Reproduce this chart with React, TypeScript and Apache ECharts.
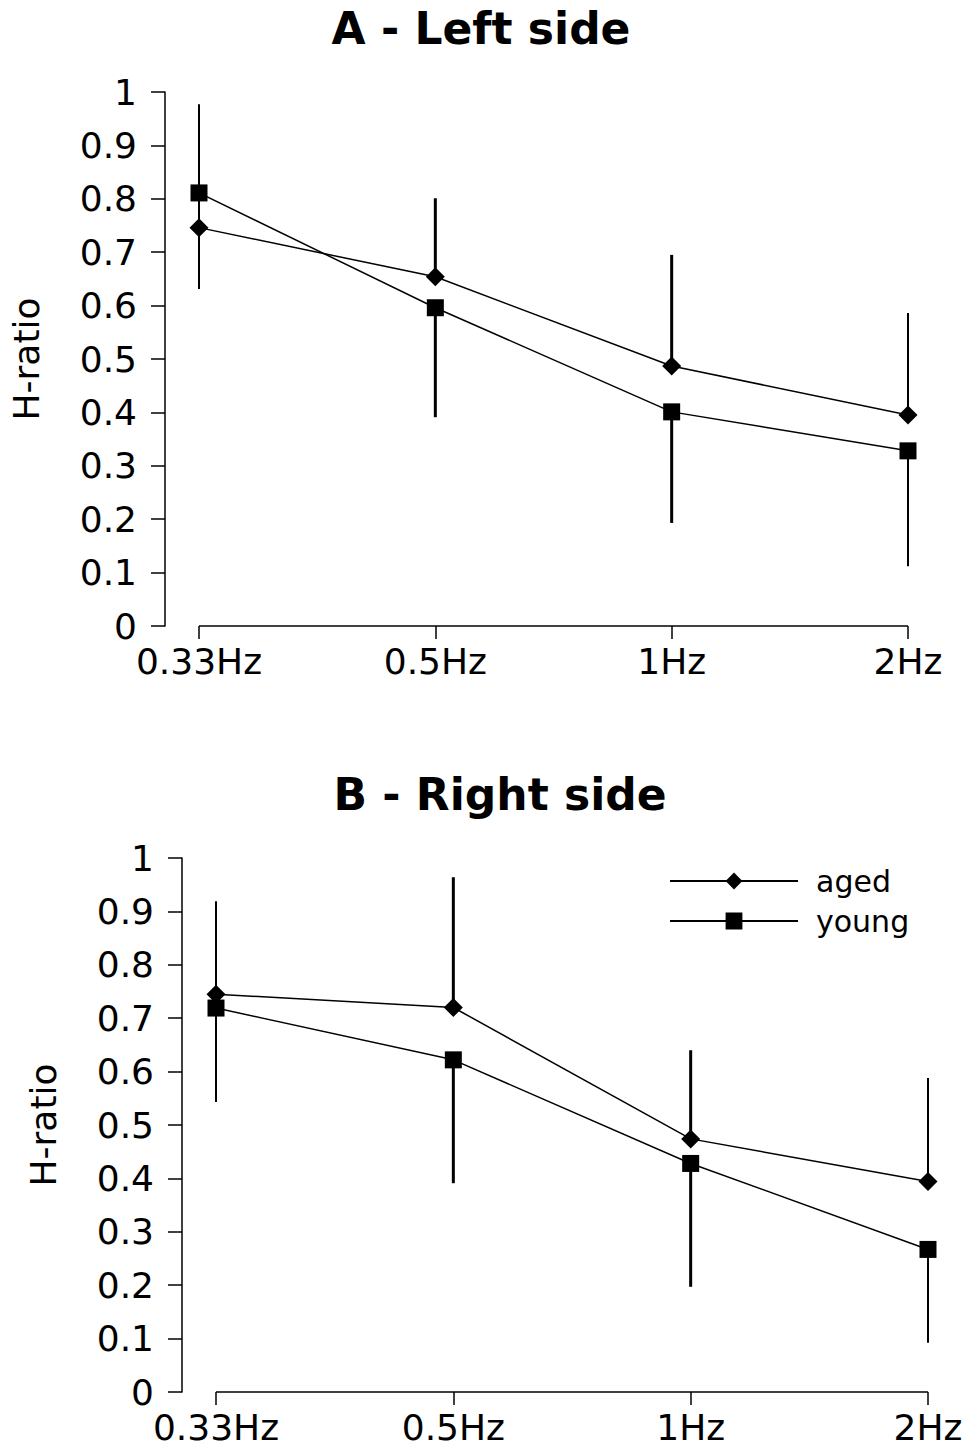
import React, { useEffect, useRef } from "react";
import * as echarts from "echarts";

const categories = ["0.33Hz", "0.5Hz", "1Hz", "2Hz"];
const yTicks = [0, 0.1, 0.2, 0.3, 0.4, 0.5, 0.6, 0.7, 0.8, 0.9, 1];

// Panel A - Left side
const leftAged = [0.746, 0.654, 0.487, 0.395];
const leftYoung = [0.811, 0.596, 0.401, 0.328];
const leftAgedUpper = [0.977, 0.801, 0.695, 0.586];
const leftYoungLower = [0.631, 0.391, 0.193, 0.112];

// Panel B - Right side
const rightAged = [0.745, 0.72, 0.474, 0.394];
const rightYoung = [0.719, 0.622, 0.428, 0.267];
const rightAgedUpper = [0.919, 0.964, 0.64, 0.588];
const rightYoungLower = [0.543, 0.391, 0.197, 0.092];

const FONT = "DejaVu Sans";
const errWidths = [2, 3, 3, 2];

function errData(center: number[], end: number[]) {
  return center.map((v, i) => [i, v, end[i]]);
}

function errSeries(name: string, gi: number, data: number[][]) {
  return {
    type: "custom",
    name,
    xAxisIndex: gi,
    yAxisIndex: gi,
    z: 1,
    silent: true,
    clip: false,
    encode: { x: 0, y: [1, 2] },
    data,
    renderItem: (params: any, api: any) => {
      const x = api.value(0);
      const p1 = api.coord([x, api.value(1)]);
      const p2 = api.coord([x, api.value(2)]);
      return {
        type: "line",
        shape: { x1: p1[0], y1: p1[1], x2: p2[0], y2: p2[1] },
        style: { stroke: "#000", lineWidth: errWidths[x] },
      };
    },
  };
}

function lineSeries(name: string, gi: number, values: number[], symbol: string, size: number) {
  return {
    type: "line",
    name,
    xAxisIndex: gi,
    yAxisIndex: gi,
    z: 3,
    clip: false,
    data: values.map((v, i) => [i, v]),
    symbol,
    symbolSize: size,
    itemStyle: { color: "#000" },
    lineStyle: { color: "#000", width: 1.5 },
    emphasis: { disabled: true },
  };
}

function baseSeries(gi: number) {
  return {
    type: "line",
    xAxisIndex: gi,
    yAxisIndex: gi,
    z: 2,
    silent: true,
    clip: false,
    symbol: "none",
    data: [
      [0, 0],
      [categories.length - 1, 0],
    ],
    lineStyle: { color: "#000", width: 1.5 },
  };
}

function xAxisCfg(gi: number, min: number) {
  return {
    type: "value",
    gridIndex: gi,
    min,
    max: categories.length - 1,
    axisLine: { show: false, onZero: false },
    splitLine: { show: false },
    axisTick: {
      show: true,
      length: 13,
      customValues: categories.map((_, i) => i),
      lineStyle: { color: "#000", width: 1.5 },
    },
    axisLabel: {
      show: true,
      customValues: categories.map((_, i) => i),
      formatter: (v: number) => categories[Math.round(v)] ?? "",
      color: "#000",
      fontSize: 36,
      fontFamily: FONT,
      margin: 17,
    },
  };
}

function yAxisCfg(gi: number) {
  return {
    type: "value",
    gridIndex: gi,
    min: yTicks[0],
    max: yTicks[yTicks.length - 1],
    interval: 0.1,
    name: "H-ratio",
    nameLocation: "middle",
    nameGap: 121,
    nameRotate: 90,
    nameTextStyle: { color: "#000", fontSize: 36, fontFamily: FONT },
    axisLine: { show: true, onZero: false, lineStyle: { color: "#000", width: 1.5 } },
    axisTick: { show: true, length: 14, lineStyle: { color: "#000", width: 1.5 } },
    splitLine: { show: false },
    axisLabel: {
      color: "#000",
      fontSize: 36,
      fontFamily: FONT,
      margin: 28,
      formatter: (v: number) => String(Math.round(v * 10) / 10),
    },
  };
}

export default function App() {
  const ref = useRef<HTMLDivElement>(null);
  useEffect(() => {
    if (!ref.current) return;
    const chart = echarts.init(ref.current, null, { renderer: "svg" });
    const minA = -(199 - 165) / ((908 - 199) / 3);
    const minB = -(216 - 182) / ((928 - 216) / 3);
    chart.setOption({
      animation: false,
      backgroundColor: "#fff",
      title: [
        {
          text: "A - Left side",
          left: 481,
          top: 6,
          textAlign: "center",
          padding: 0,
          textStyle: { fontSize: 44, fontWeight: "bold", fontFamily: FONT, color: "#000" },
        },
        {
          text: "B - Right side",
          left: 500,
          top: 772,
          textAlign: "center",
          padding: 0,
          textStyle: { fontSize: 44, fontWeight: "bold", fontFamily: FONT, color: "#000" },
        },
      ],
      legend: {
        data: ["aged", "young"],
        orient: "vertical",
        left: 669,
        top: 866,
        padding: 0,
        itemWidth: 128,
        itemHeight: 21,
        itemGap: 10,
        selectedMode: false,
        textStyle: { fontSize: 30, fontFamily: FONT, color: "#000", padding: [0, 0, 0, 13] },
      },
      grid: [
        { left: 165, top: 92, width: 908 - 165, height: 534 },
        { left: 182, top: 858, width: 928 - 182, height: 534 },
      ],
      xAxis: [xAxisCfg(0, minA), xAxisCfg(1, minB)],
      yAxis: [yAxisCfg(0), yAxisCfg(1)],
      series: [
        lineSeries("aged", 1, rightAged, "diamond", 19),
        lineSeries("young", 1, rightYoung, "rect", 17),
        lineSeries("aged", 0, leftAged, "diamond", 19),
        lineSeries("young", 0, leftYoung, "rect", 17),
        errSeries("err-aged-A", 0, errData(leftAged, leftAgedUpper)),
        errSeries("err-young-A", 0, errData(leftYoung, leftYoungLower)),
        errSeries("err-aged-B", 1, errData(rightAged, rightAgedUpper)),
        errSeries("err-young-B", 1, errData(rightYoung, rightYoungLower)),
        baseSeries(0),
        baseSeries(1),
      ],
    });
    return () => chart.dispose();
  }, []);
  return (
    <div
      ref={ref}
      style={{ position: "absolute", left: 0, top: 0, width: 970, height: 1449 }}
    />
  );
}
